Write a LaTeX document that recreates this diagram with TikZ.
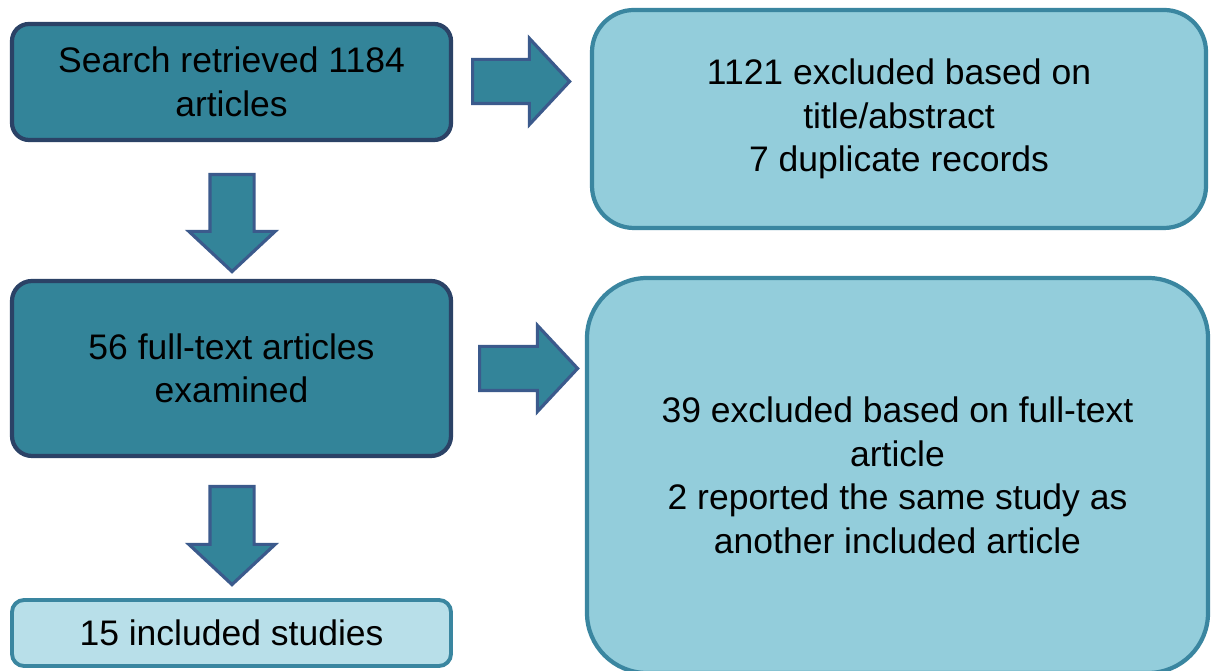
\documentclass[tikz,border=0pt]{standalone}
\usepackage{fontspec}
\setmainfont{Liberation Sans}
\usetikzlibrary{shapes.arrows}
\definecolor{stagefill}{HTML}{338499}
\definecolor{stageedge}{HTML}{2B4266}
\definecolor{exclfill}{HTML}{93CDDB}
\definecolor{excledge}{HTML}{3A86A0}
\definecolor{inclfill}{HTML}{B8DFE9}
\definecolor{arrowedge}{HTML}{3B5A8C}

\begin{document}
\begin{tikzpicture}[
  txt/.style={align=center, inner sep=0pt, font=\fontsize{10.1}{12.4}\selectfont},
  stage/.style={txt, draw=stageedge, fill=stagefill, line width=1.2pt,
    rounded corners=0.17cm, minimum width=4.39cm},
  excl/.style={txt, draw=excledge, fill=exclfill, line width=1.2pt},
  incl/.style={txt, draw=excledge, fill=inclfill, line width=1.1pt,
    rounded corners=0.12cm, minimum width=4.39cm, minimum height=0.66cm},
  blockarrow/.style={single arrow, draw=arrowedge, fill=stagefill,
    line width=0.9pt, inner xsep=0pt, inner ysep=0.205cm,
    single arrow head extend=0.21cm, single arrow tip angle=94, anchor=tail},
  downarrow/.style={blockarrow, inner xsep=0.205cm, inner ysep=0pt,
    shape border rotate=270}
]
  \fill[white] (0,0) rectangle (12.13,-6.71);
  \useasboundingbox (0,0) rectangle (12.13,-6.71);

  % left column
  \node[stage, minimum height=1.16cm] (search) at (2.315,-0.82)
    {Search retrieved 1184\\articles};
  \node[stage, minimum height=1.75cm, rounded corners=0.2cm] (fulltext) at (2.315,-3.685)
    {56 full-text articles\\examined};
  \node[incl] (included) at (2.315,-6.33) {15 included studies};

  % right column
  \node[excl, minimum width=6.14cm, minimum height=2.18cm, rounded corners=0.42cm]
    (screenout) at (8.99,-1.19)
    {1121 excluded based on\\title/abstract\\7 duplicate records};
  \node[excl, minimum width=6.21cm, minimum height=3.95cm, rounded corners=0.6cm]
    (fullout) at (8.975,-4.755)
    {39 excluded based on full-text\\article\\2 reported the same study as\\another included article};

  % block arrows
  \node[blockarrow, minimum height=0.97cm] (toscreen) at (4.71,-0.815) {};
  \node[blockarrow, minimum height=0.98cm] (tofullout) at (4.78,-3.685) {};
  \node[downarrow, minimum height=0.97cm] (tofull) at (2.32,-1.73) {};
  \node[downarrow, minimum height=0.98cm] (toincl) at (2.32,-4.85) {};
\end{tikzpicture}
\end{document}
